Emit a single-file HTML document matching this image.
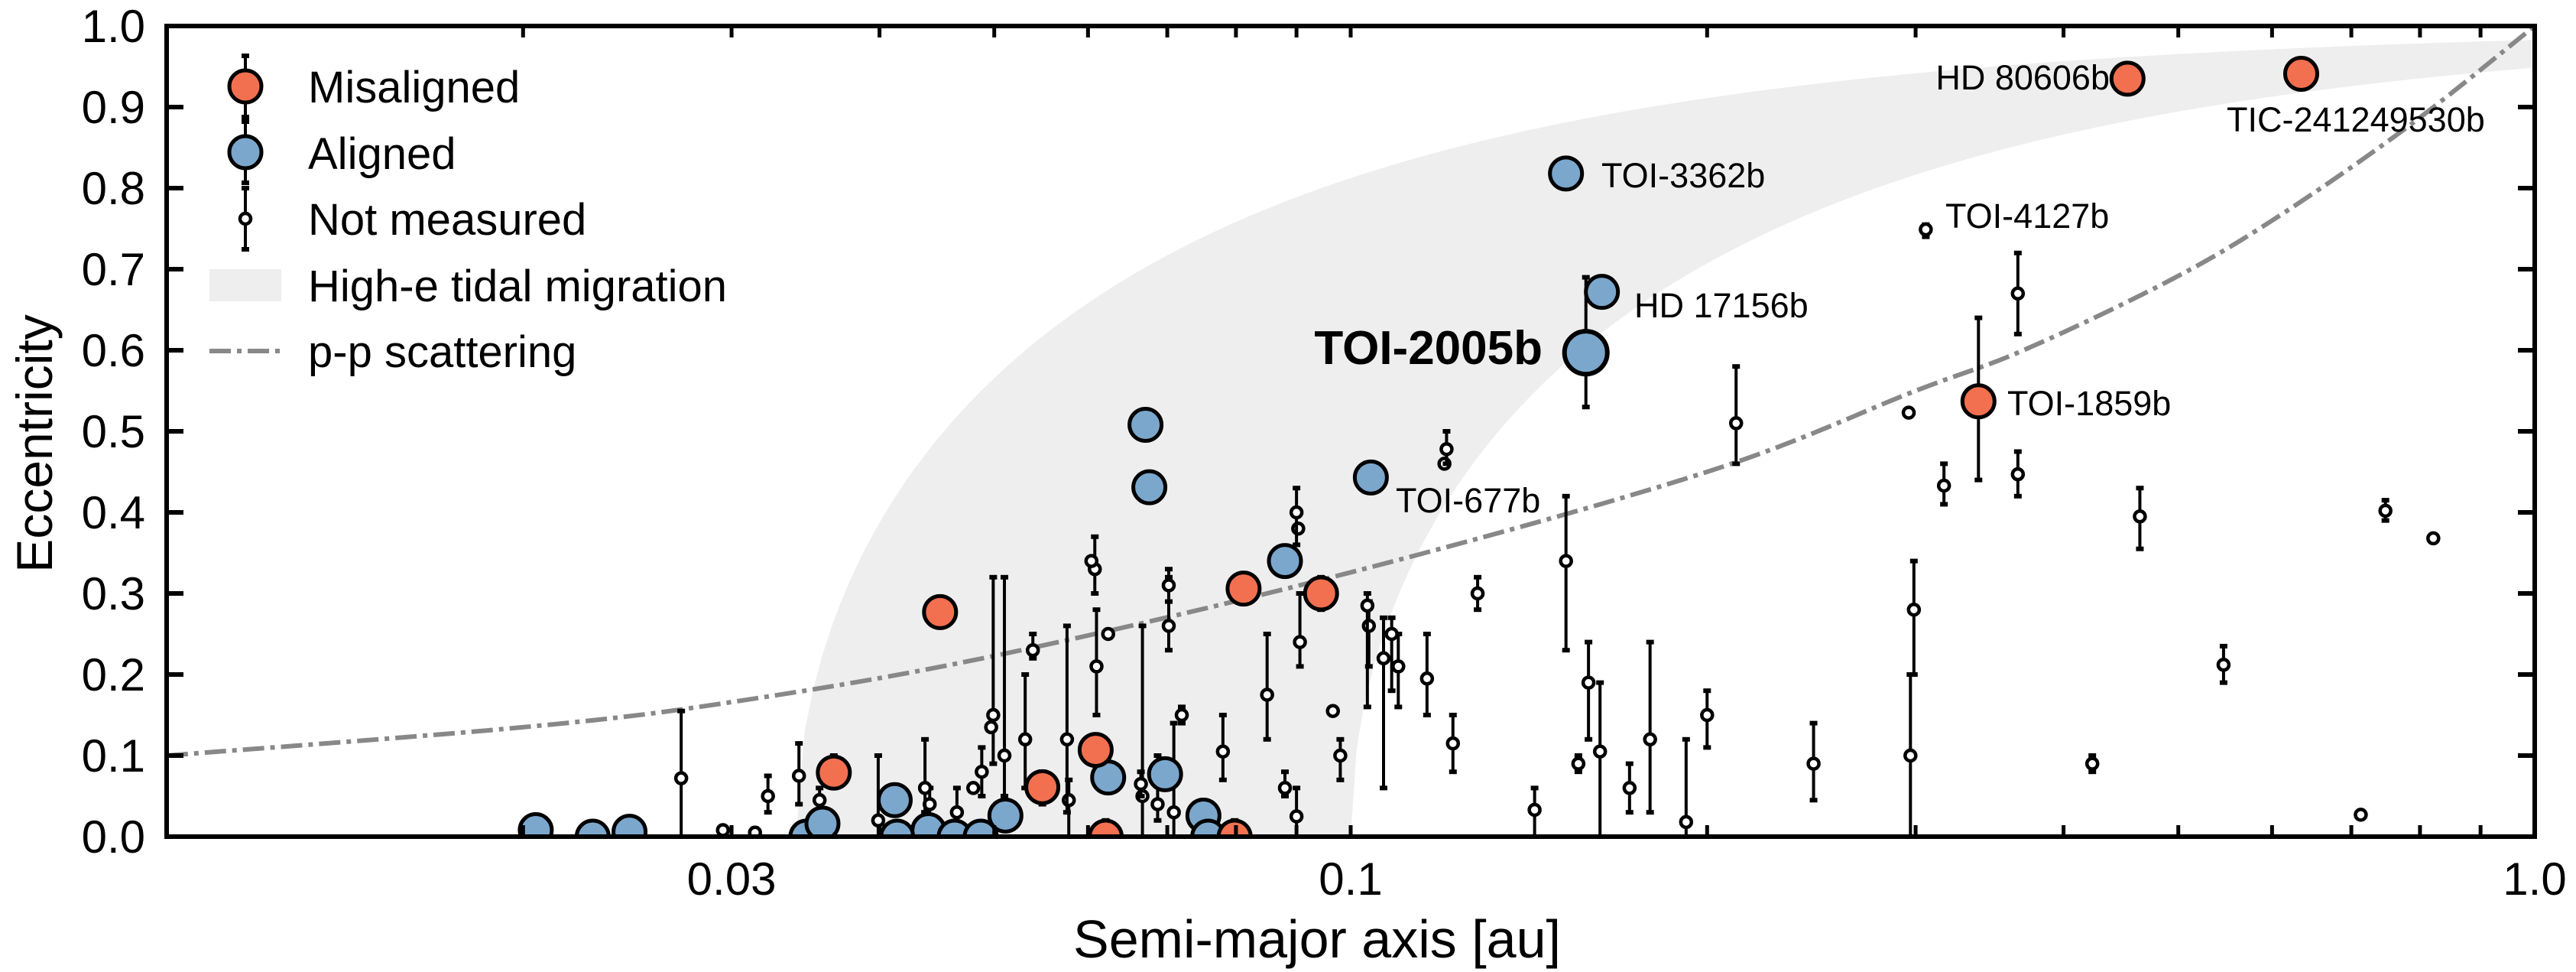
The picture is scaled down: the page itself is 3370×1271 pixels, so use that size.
<!DOCTYPE html>
<html><head><meta charset="utf-8"><style>
html,body{margin:0;padding:0;background:#fff;}
svg{display:block;font-family:"Liberation Sans",sans-serif;}
</style></head><body>
<svg id="chart" width="3370" height="1271" viewBox="0 0 3370 1271" xmlns="http://www.w3.org/2000/svg">
<defs><clipPath id="plotclip"><rect x="218" y="34" width="3098" height="1060"/></clipPath></defs>
<g id="plot" clip-path="url(#plotclip)"></g>
<g id="axes"></g>
<g id="legend">
  <rect x="274" y="352" width="94" height="42" fill="#efeeef"/>
  <line x1="274" y1="459" x2="368" y2="459" stroke="#888" stroke-width="6" stroke-dasharray="28,8,6,8"/>
  <text x="403" y="134" font-size="58">Misaligned</text>
  <text x="403" y="221" font-size="58">Aligned</text>
  <text x="403" y="307" font-size="58">Not measured</text>
  <text x="403" y="394" font-size="58">High-e tidal migration</text>
  <text x="403" y="480" font-size="58">p-p scattering</text>
</g>
<g id="labels" font-size="45">
  <text x="2760" y="117" text-anchor="end">HD 80606b</text>
  <text x="2913" y="172">TIC-241249530b</text>
  <text x="2545" y="298">TOI-4127b</text>
  <text x="2095" y="245">TOI-3362b</text>
  <text x="2138" y="415">HD 17156b</text>
  <text x="2018" y="476" text-anchor="end" font-size="62" font-weight="bold">TOI-2005b</text>
  <text x="2626" y="543">TOI-1859b</text>
  <text x="1826" y="670">TOI-677b</text>
</g>
<text x="1723" y="1252" font-size="70" text-anchor="middle">Semi-major axis [au]</text>
<text transform="translate(68,580) rotate(-90)" font-size="66" text-anchor="middle">Eccentricity</text>
</svg>
<script>
const misA=[0.453,0.635,0.339,0.045,0.0812,0.0944,0.0366,0.0609,0.0549,0.0621,0.0798];
const misE=[0.935,0.941,0.537,0.277,0.306,0.30,0.079,0.107,0.061,0.0,0.0];
const misLo=[0.925,0.935,0.44,0.277,0.29,0.28,0.079,0.09,0.04,0.0,0.0];
const misHi=[0.945,0.95,0.64,0.277,0.32,0.32,0.10,0.12,0.08,0.02,0.02];
const aliA=[0.152,0.163,0.104,0.0671,0.0676,0.088,0.0697,0.0624,0.0511,0.0412,0.0751,0.0205,0.0229,0.0246,0.0347,0.0358,0.0414,0.044,0.0463,0.0487,0.0758];
const aliE=[0.818,0.672,0.443,0.508,0.431,0.34,0.077,0.073,0.026,0.045,0.026,0.008,0,0.006,0,0.016,0,0.008,0,0,0];
const toiA=[0.158], toiE=[0.597], toiLo=[0.53], toiHi=[0.69];
const nmA=[.2116,.296,.306,.317,.366,.366,.464,.546,.748,.821,.713,.423,.299,.297,.246,.200,.192,.179,.172,.1624,.1588,.1557,.143,.152,.128,.122,.116,.120,.1205,.1097,.1083,.1066,.1036,.1033,.098,.0966,.0906,.0903,.0900,.0900,.088,.085,.078,.072,.0709,.0702,.0702,.0687,.0667,.0665,.0624,.061,.0608,.0604,.0578,.0576,.0539,.0531,.051,.0499,.0497,.0488,.048,.0465,.0441,.0437,.0399,.0356,.0342,.0322,.0314,.0295,.0272];
const nmE=[.51,.523,.749,.433,.67,.447,.395,.212,.402,.368,.027,.09,.28,.10,.09,.15,.018,.12,.06,.105,.19,.09,.033,.34,.30,.115,.195,.46,.478,.21,.25,.22,.26,.285,.10,.155,.24,.38,.40,.025,.06,.175,.105,.15,.03,.26,.31,.04,.05,.065,.25,.21,.33,.34,.045,.12,.23,.12,.10,.15,.135,.08,.06,.03,.04,.06,.02,.045,.075,.05,.005,.008,.072];
const nmLo=[.46,.523,.74,.41,.62,.42,.355,.19,.39,.368,.027,.08,.20,0,.045,.11,0,.03,.03,0,.12,.08,0,.23,.28,.08,.15,.46,.46,.16,.18,.06,.21,.16,.07,.155,.21,.38,.36,0,.05,.12,.07,.14,0,.23,.29,.02,0,.05,.25,.15,.30,.34,0,.03,.22,.06,.05,.09,.135,.05,.06,0,.02,.03,0,.03,.04,.03,0,0,0];
const nmHi=[.58,.523,.755,.46,.72,.475,.43,.235,.415,.368,.027,.10,.34,.20,.14,.18,.12,.24,.09,.19,.24,.10,.06,.42,.32,.15,.25,.46,.50,.25,.27,.27,.29,.30,.12,.155,.30,.38,.43,.06,.08,.25,.15,.16,.14,.32,.33,.10,.26,.08,.25,.28,.37,.34,.07,.26,.25,.20,.32,.32,.135,.11,.06,.06,.06,.12,.10,.06,.115,.075,.01,.01,.155];
const ppA=[0.01,0.02,0.03,0.05,0.1,0.2,0.3,0.37,0.49,0.6,0.78,1.0];
const ppE=[0.10,0.135,0.166,0.223,0.326,0.45,0.55,0.60,0.685,0.76,0.875,1.0];
const bandAf=[0.034,0.1];
const yTicks=[0,0.1,0.2,0.3,0.4,0.5,0.6,0.7,0.8,0.9,1.0];
const xTickLabels=["0.03","0.1","1.0"];
const xTickVals=[0.03,0.1,1.0];

const X0=218,X1=3316,Y0=1094,Y1=34;
const xs=a=>X0+(Math.log10(a)+2)/2*(X1-X0);
const ys=e=>Y0-e*(Y0-Y1);
const NS="http://www.w3.org/2000/svg";
function mk(tag,attrs,parent){const el=document.createElementNS(NS,tag);for(const k in attrs)el.setAttribute(k,attrs[k]);parent.appendChild(el);return el;}
const plot=document.getElementById('plot'), axes=document.getElementById('axes');

let pts=[];
const N=200;
for(let i=0;i<=N;i++){const a=bandAf[0]*Math.pow(1/bandAf[0],i/N);pts.push(xs(a)+','+ys(Math.sqrt(1-bandAf[0]/a)));}
for(let i=N;i>=0;i--){const a=bandAf[1]*Math.pow(1/bandAf[1],i/N);pts.push(xs(a)+','+ys(Math.sqrt(Math.max(0,1-bandAf[1]/a))));}
let band=mk('polygon',{points:pts.join(' '),fill:'#efeeef'},plot);



const P=ppA.map((a,i)=>[xs(a),ys(ppE[i])]);
let d='M'+P[0][0]+','+P[0][1];
for(let i=0;i<P.length-1;i++){
  const p0=P[Math.max(0,i-1)],p1=P[i],p2=P[i+1],p3=P[Math.min(P.length-1,i+2)];
  const c1=[p1[0]+(p2[0]-p0[0])/6,p1[1]+(p2[1]-p0[1])/6];
  const c2=[p2[0]-(p3[0]-p1[0])/6,p2[1]-(p3[1]-p1[1])/6];
  d+=' C'+c1[0]+','+c1[1]+' '+c2[0]+','+c2[1]+' '+p2[0]+','+p2[1];
}
let pp=mk('path',{d:d,fill:'none',stroke:'#888','stroke-width':6,'stroke-dasharray':'28,8,6,8'},plot);



function errbar(a,lo,hi,name){
  if(hi-lo<0.001)return;
  const x=xs(a);
  const g=mk('g',{stroke:'#000','stroke-width':4},plot);
  
  
  mk('line',{x1:x,x2:x,y1:ys(lo),y2:ys(hi)},g);
  mk('line',{x1:x-5,x2:x+5,y1:ys(lo),y2:ys(lo),'stroke-width':6},g);
  mk('line',{x1:x-5,x2:x+5,y1:ys(hi),y2:ys(hi),'stroke-width':6},g);
}
nmA.forEach((a,i)=>{
  errbar(a,nmLo[i],nmHi[i],'not-measured-errorbar');
  const c=mk('circle',{cx:xs(a),cy:ys(nmE[i]),r:7,fill:'#fff',stroke:'#000','stroke-width':4.5},plot);
  
  
});
aliA.forEach((a,i)=>{
  const c=mk('circle',{cx:xs(a),cy:ys(aliE[i]),r:21,fill:'#7ba7cd',stroke:'#000','stroke-width':5},plot);
  
  
});
misA.forEach((a,i)=>{
  errbar(a,misLo[i],misHi[i],'misaligned-errorbar');
  const c=mk('circle',{cx:xs(a),cy:ys(misE[i]),r:21,fill:'#f2704f',stroke:'#000','stroke-width':5},plot);
  
  
});
toiA.forEach((a,i)=>{
  errbar(a,toiLo[i],toiHi[i],'toi-2005b-errorbar');
  const c=mk('circle',{cx:xs(a),cy:ys(toiE[i]),r:28,fill:'#7ba7cd',stroke:'#000','stroke-width':6},plot);
  
  
});

const lg=document.getElementById('legend');
[[113,'#f2704f',21],[199,'#7ba7cd',21],[286,'#fff',7]].forEach(([y,f,r])=>{
  mk('line',{x1:321,x2:321,y1:y-40,y2:y+40,stroke:'#000','stroke-width':4},lg);
  mk('line',{x1:316,x2:326,y1:y-40,y2:y-40,stroke:'#000','stroke-width':6},lg);
  mk('line',{x1:316,x2:326,y1:y+40,y2:y+40,stroke:'#000','stroke-width':6},lg);
  const c=mk('circle',{cx:321,cy:y,r:r,fill:f,stroke:'#000','stroke-width':r>10?5:4.5},lg);
  
  
});

const fr=mk('rect',{x:X0,y:Y1,width:X1-X0,height:Y0-Y1,fill:'none',stroke:'#000','stroke-width':6},axes);


yTicks.forEach(v=>{
  const y=ys(v);
  mk('line',{x1:X0,x2:X0+22,y1:y,y2:y,stroke:'#000','stroke-width':6},axes);
  mk('line',{x1:X1,x2:X1-22,y1:y,y2:y,stroke:'#000','stroke-width':6},axes);
  const t=mk('text',{x:190,y:y+21,'font-size':60,'text-anchor':'end'},axes);
  t.textContent=v.toFixed(1);
  
  
});
for(let dd=-2;dd<0;dd++){for(let m=1;m<=10;m++){const a=m*Math.pow(10,dd);const x=xs(a);
  mk('line',{x1:x,x2:x,y1:Y0,y2:Y0-15,stroke:'#000','stroke-width':5},axes);
  mk('line',{x1:x,x2:x,y1:Y1,y2:Y1+15,stroke:'#000','stroke-width':5},axes);}}
xTickVals.forEach((v,i)=>{
  const t=mk('text',{x:xs(v),y:1170,'font-size':60,'text-anchor':'middle'},axes);
  t.textContent=xTickLabels[i];
  
  
});
</script>
</body></html>
